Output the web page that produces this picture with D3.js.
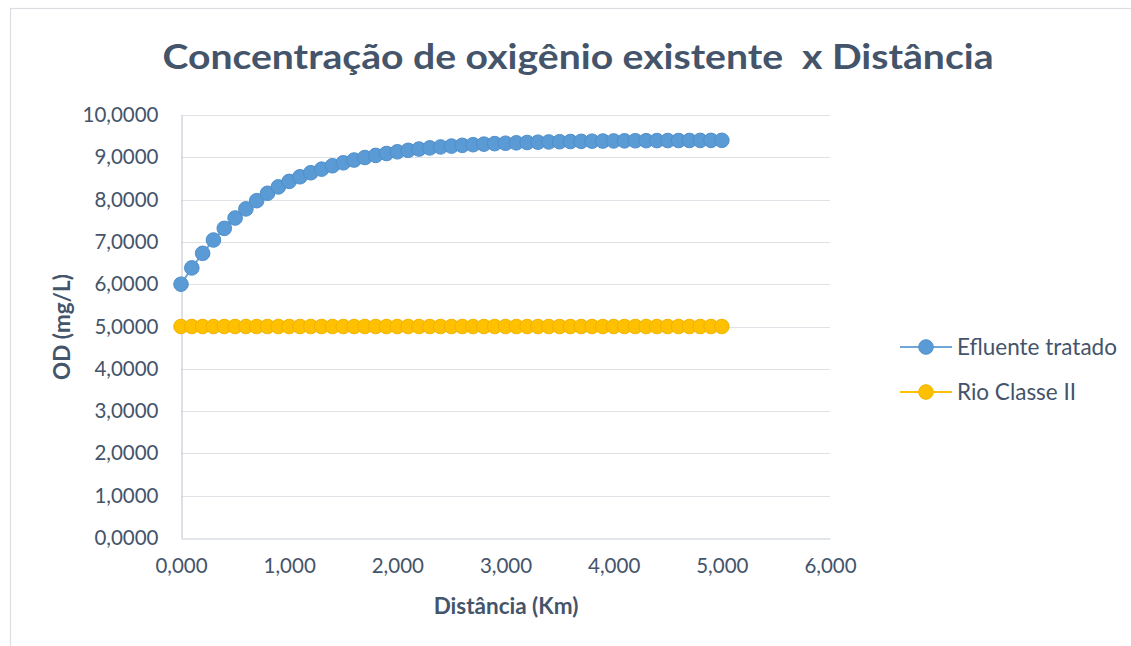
<!DOCTYPE html>
<html>
<head>
<meta charset="utf-8">
<script src="https://cdn.jsdelivr.net/npm/d3@7"></script>
<style>
  body { margin: 0; background: #ffffff; }
  svg { display: block; }
  text { font-family: Lato, "Open Sans", sans-serif; fill: #44546a; }
</style>
</head>
<body>
<svg id="chart" width="1131" height="646"></svg>
<script>
// Distance along the river (km)
const distanceKm = [
  0.0, 0.1, 0.2, 0.3, 0.4, 0.5, 0.6, 0.7, 0.8, 0.9,
  1.0, 1.1, 1.2, 1.3, 1.4, 1.5, 1.6, 1.7, 1.8, 1.9,
  2.0, 2.1, 2.2, 2.3, 2.4, 2.5, 2.6, 2.7, 2.8, 2.9,
  3.0, 3.1, 3.2, 3.3, 3.4, 3.5, 3.6, 3.7, 3.8, 3.9,
  4.0, 4.1, 4.2, 4.3, 4.4, 4.5, 4.6, 4.7, 4.8, 4.9,
  5.0
];

// Dissolved oxygen downstream of the treated effluent (mg/L)
const efluenteTratado = [
  6.000, 6.385, 6.730, 7.045, 7.320, 7.565, 7.780, 7.975, 8.150, 8.300,
  8.430, 8.540, 8.635, 8.720, 8.800, 8.870, 8.935, 8.995, 9.045, 9.090,
  9.130, 9.165, 9.195, 9.222, 9.245, 9.265, 9.283, 9.298, 9.311, 9.323,
  9.333, 9.342, 9.350, 9.357, 9.363, 9.368, 9.373, 9.377, 9.381, 9.384,
  9.387, 9.389, 9.391, 9.393, 9.395, 9.396, 9.397, 9.398, 9.399, 9.400,
  9.401
];

// Minimum DO for a class II river (mg/L)
const rioClasseII = [
  5, 5, 5, 5, 5, 5, 5, 5, 5, 5,
  5, 5, 5, 5, 5, 5, 5, 5, 5, 5,
  5, 5, 5, 5, 5, 5, 5, 5, 5, 5,
  5, 5, 5, 5, 5, 5, 5, 5, 5, 5,
  5, 5, 5, 5, 5, 5, 5, 5, 5, 5,
  5
];

const seriesNames = ["Efluente tratado", "Rio Classe II"];
const xTicks = [0, 1, 2, 3, 4, 5, 6];
const yTicks = [0, 1, 2, 3, 4, 5, 6, 7, 8, 9, 10];

const titleText = "Concentração de oxigênio existente  x Distância";
const xTitle = "Distância (Km)";
const yTitle = "OD (mg/L)";

const series = [
  { name: seriesNames[0], values: efluenteTratado, fill: "#5b9bd5", stroke: "#4f8ecb", line: "#6fa6da" },
  { name: seriesNames[1], values: rioClasseII, fill: "#ffc000", stroke: "#f0b400", line: "#ffc000" }
];

// Portuguese number format: comma as decimal separator
const ptBR = d3.formatLocale({ decimal: ",", thousands: ".", grouping: [3], currency: ["R$", ""] });
const fmtX = ptBR.format(".3f");
const fmtY = ptBR.format(".4f");

const svg = d3.select("#chart");
const W = 1131, H = 646;

// chart frame
svg.append("rect")
  .attr("x", 10.5).attr("y", 8.5)
  .attr("width", W + 20).attr("height", H + 20)
  .attr("fill", "#ffffff")
  .attr("stroke", "#dadde2").attr("stroke-width", 1.2);

const x = d3.scaleLinear().domain([0, 6]).range([181, 830]);
const y = d3.scaleLinear().domain([0, 10]).range([538, 115]);

// title
svg.append("text")
  .attr("x", 578).attr("y", 69)
  .attr("text-anchor", "middle")
  .attr("textLength", 831).attr("lengthAdjust", "spacingAndGlyphs")
  .style("font-size", "35px").style("font-weight", "700")
  .style("white-space", "pre")
  .text(titleText);

// horizontal gridlines
svg.append("g")
  .selectAll("line")
  .data(yTicks.filter(d => d > 0))
  .join("line")
  .attr("x1", x(0)).attr("x2", x(6))
  .attr("y1", d => Math.round(y(d)) + 0.5).attr("y2", d => Math.round(y(d)) + 0.5)
  .attr("stroke", "#dfe2e7").attr("stroke-width", 1.2);

// y axis
const yAxis = svg.append("g")
  .attr("transform", `translate(${x(0) + 0.5},0)`)
  .call(d3.axisLeft(y).tickValues(yTicks).tickFormat(fmtY).tickSize(0).tickPadding(23));
yAxis.select(".domain").attr("stroke", "#c6cdd7").attr("stroke-width", 1.2);
yAxis.selectAll("text").style("font-size", "20.5px").style("fill", "#44546a");

// x axis
const xAxis = svg.append("g")
  .attr("transform", `translate(0,${y(0) + 0.5})`)
  .call(d3.axisBottom(x).tickValues(xTicks).tickFormat(fmtX).tickSize(0).tickPadding(20));
xAxis.select(".domain").attr("stroke", "#c6cdd7").attr("stroke-width", 1.2);
xAxis.selectAll("text").style("font-size", "20.5px").style("fill", "#44546a");

// axis titles
svg.append("text")
  .attr("x", 506).attr("y", 614)
  .attr("text-anchor", "middle")
  .style("font-size", "22.5px").style("font-weight", "700")
  .text(xTitle);

svg.append("text")
  .attr("transform", "translate(70,327) rotate(-90)")
  .attr("text-anchor", "middle")
  .style("font-size", "22.5px").style("font-weight", "700")
  .text(yTitle);

// series lines and markers
const line = d3.line()
  .x((d, i) => x(distanceKm[i]))
  .y(d => y(d));

const plot = svg.append("g");
series.forEach(s => {
  plot.append("path")
    .datum(s.values)
    .attr("d", line)
    .attr("fill", "none")
    .attr("stroke", s.line).attr("stroke-width", 2);
});
series.forEach(s => {
  plot.append("g")
    .selectAll("circle")
    .data(s.values)
    .join("circle")
    .attr("cx", (d, i) => x(distanceKm[i]))
    .attr("cy", d => y(d))
    .attr("r", 7.3)
    .attr("fill", s.fill)
    .attr("stroke", s.stroke).attr("stroke-width", 1);
});

// legend
const legend = svg.append("g")
  .selectAll("g")
  .data(series)
  .join("g")
  .attr("transform", (d, i) => `translate(900,${347 + i * 45})`);
legend.append("line")
  .attr("x1", 0).attr("x2", 52)
  .attr("stroke", d => d.line).attr("stroke-width", 2);
legend.append("circle")
  .attr("cx", 26).attr("r", 7.3)
  .attr("fill", d => d.fill).attr("stroke", d => d.stroke).attr("stroke-width", 1);
legend.append("text")
  .attr("x", 57).attr("dy", "0.35em")
  .style("font-size", "22.5px")
  .text(d => d.name);
</script>
</body>
</html>
